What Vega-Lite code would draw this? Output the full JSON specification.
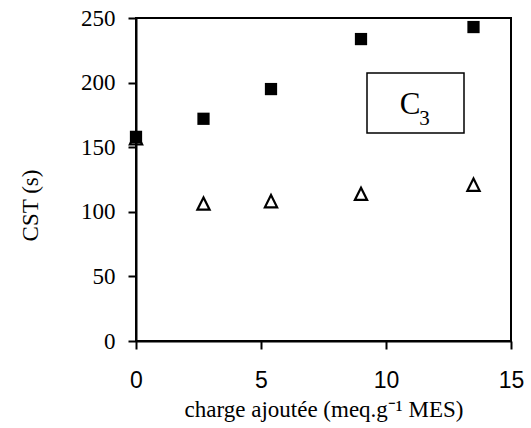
{
  "$schema": "https://vega.github.io/schema/vega-lite/v6.json",
  "autosize": "none",
  "width": 375,
  "height": 323,
  "padding": {"left": 136, "top": 18, "right": 20, "bottom": 87},
  "background": "white",
  "config": {
    "view": {"stroke": "black", "strokeWidth": 2},
    "axis": {
      "grid": false,
      "domainColor": "black",
      "domainWidth": 2,
      "tickColor": "black",
      "tickWidth": 2,
      "tickSize": 8,
      "labelColor": "black",
      "titleColor": "black",
      "titleFontWeight": "normal"
    }
  },
  "encoding": {
    "x": {
      "field": "x",
      "type": "quantitative",
      "scale": {"domain": [0, 15], "nice": false, "zero": false},
      "axis": {
        "values": [0, 5, 10, 15],
        "title": "charge ajoutée (meq.g⁻¹ MES)",
        "labelFont": "Liberation Sans",
        "labelFontSize": 23,
        "labelPadding": 20,
        "labelFlush": false,
        "titleFont": "Liberation Serif",
        "titleFontSize": 23,
        "titleBaseline": "alphabetic",
        "titleY": 75
      }
    },
    "y": {
      "field": "y",
      "type": "quantitative",
      "scale": {"domain": [0, 250], "nice": false},
      "axis": {
        "values": [0, 50, 100, 150, 200, 250],
        "title": "CST (s)",
        "labelFont": "Liberation Serif",
        "labelFontSize": 23,
        "labelPadding": 13,
        "labelFlush": false,
        "titleFont": "Liberation Serif",
        "titleFontSize": 23,
        "titleAngle": -90,
        "titleAlign": "center",
        "titleBaseline": "middle",
        "titleX": -106,
        "titleY": 187
      }
    }
  },
  "layer": [
    {
      "data": {"values": [{"x": 9.24, "x2": 13.12, "y": 207.4, "y2": 161}]},
      "mark": {"type": "rect", "fill": "white", "stroke": "black", "strokeWidth": 1.5},
      "encoding": {
        "x2": {"field": "x2"},
        "y2": {"field": "y2"}
      }
    },
    {
      "data": {"values": [{"x": 10.96, "y": 175.7, "t": "C"}]},
      "mark": {"type": "text", "font": "Liberation Serif", "fontSize": 31, "align": "center", "baseline": "alphabetic", "color": "black"},
      "encoding": {"text": {"field": "t"}}
    },
    {
      "data": {"values": [{"x": 11.54, "y": 167, "t": "3"}]},
      "mark": {"type": "text", "font": "Liberation Serif", "fontSize": 21, "align": "center", "baseline": "alphabetic", "color": "black"},
      "encoding": {"text": {"field": "t"}}
    },
    {
      "data": {"values": [
        {"x": 0, "y": 157},
        {"x": 2.7, "y": 106.4},
        {"x": 5.4, "y": 108.2},
        {"x": 9.0, "y": 113.9},
        {"x": 13.5, "y": 121}
      ]},
      "mark": {"type": "point", "shape": "M0,-1L-1,1L1,1Z", "size": 150, "filled": false, "stroke": "black", "strokeWidth": 2.2, "opacity": 1, "clip": false}
    },
    {
      "data": {"values": [
        {"x": 0, "y": 158},
        {"x": 2.7, "y": 172},
        {"x": 5.4, "y": 195},
        {"x": 9.0, "y": 233.7},
        {"x": 13.5, "y": 243}
      ]},
      "mark": {"type": "point", "shape": "square", "size": 150, "filled": true, "fill": "black", "strokeWidth": 0, "opacity": 1, "clip": false}
    }
  ]
}
